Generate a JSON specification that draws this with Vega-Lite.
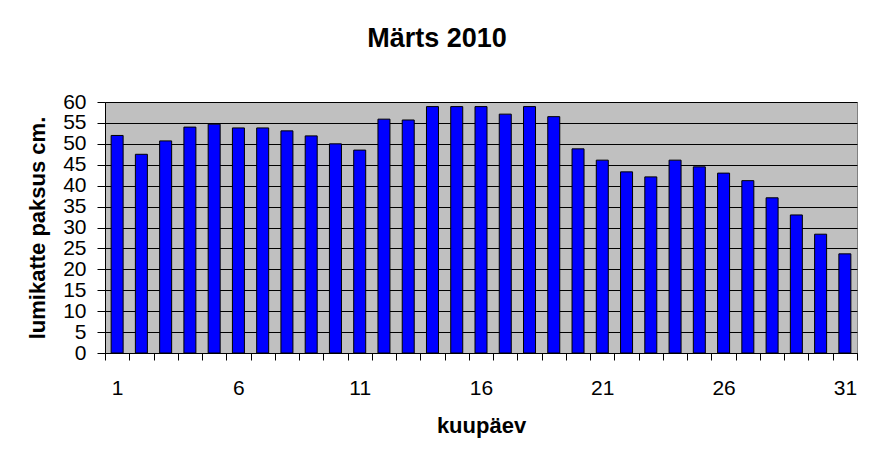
{
  "$schema": "https://vega.github.io/schema/vega-lite/v6.json",
  "autosize": "none",
  "width": 752,
  "height": 251,
  "padding": {"left": 105, "top": 102, "right": 16, "bottom": 112},
  "background": "white",
  "title": {
    "text": "Märts 2010",
    "font": "Liberation Sans",
    "fontSize": 27,
    "fontWeight": "bold",
    "color": "black",
    "anchor": "middle",
    "dx": -44,
    "offset": 38
  },
  "data": {
    "values": [
      {"day": 1, "snow": 52},
      {"day": 2, "snow": 47.5},
      {"day": 3, "snow": 50.7},
      {"day": 4, "snow": 54},
      {"day": 5, "snow": 54.7},
      {"day": 6, "snow": 53.8},
      {"day": 7, "snow": 53.8},
      {"day": 8, "snow": 53.1},
      {"day": 9, "snow": 51.9},
      {"day": 10, "snow": 50},
      {"day": 11, "snow": 48.5},
      {"day": 12, "snow": 55.9},
      {"day": 13, "snow": 55.7},
      {"day": 14, "snow": 58.9},
      {"day": 15, "snow": 58.9},
      {"day": 16, "snow": 58.9},
      {"day": 17, "snow": 57.1},
      {"day": 18, "snow": 58.9},
      {"day": 19, "snow": 56.5},
      {"day": 20, "snow": 48.8},
      {"day": 21, "snow": 46.1},
      {"day": 22, "snow": 43.3},
      {"day": 23, "snow": 42.1},
      {"day": 24, "snow": 46.1},
      {"day": 25, "snow": 44.5},
      {"day": 26, "snow": 43},
      {"day": 27, "snow": 41.2},
      {"day": 28, "snow": 37.1},
      {"day": 29, "snow": 33},
      {"day": 30, "snow": 28.4},
      {"day": 31, "snow": 23.7}
    ]
  },
  "mark": {"type": "bar", "fill": "#0000FF", "stroke": "black", "strokeWidth": 1, "width": 12},
  "encoding": {
    "x": {
      "field": "day",
      "type": "quantitative",
      "title": "kuupäev",
      "scale": {"domain": [0.5, 31.5], "nice": false, "zero": false, "padding": 0},
      "axis": {
        "values": [0.5, 1.5, 2.5, 3.5, 4.5, 5.5, 6.5, 7.5, 8.5, 9.5, 10.5, 11.5, 12.5, 13.5, 14.5, 15.5, 16.5, 17.5, 18.5, 19.5, 20.5, 21.5, 22.5, 23.5, 24.5, 25.5, 26.5, 27.5, 28.5, 29.5, 30.5, 31.5],
        "labelExpr": "(datum.value - 0.5) % 5 == 0 && datum.value < 31 ? format(datum.value + 0.5, 'd') : ''",
        "labelOffset": 12.13,
        "labelOverlap": false,
        "labelFlush": false,
        "labelBound": false,
        "tickSize": 7,
        "tickColor": "black",
        "domainColor": "black",
        "labelFont": "Liberation Sans",
        "labelFontSize": 21,
        "labelColor": "black",
        "labelPadding": 17,
        "titleFont": "Liberation Sans",
        "titleFontSize": 22,
        "titleFontWeight": "bold",
        "titleColor": "black",
        "titlePadding": 17,
        "grid": false
      }
    },
    "y": {
      "field": "snow",
      "type": "quantitative",
      "title": "lumikatte paksus cm.",
      "scale": {"domain": [0, 60], "nice": false},
      "axis": {
        "values": [0, 5, 10, 15, 20, 25, 30, 35, 40, 45, 50, 55, 60],
        "labelOverlap": false,
        "labelBound": false,
        "tickSize": 8,
        "tickColor": "black",
        "domainColor": "black",
        "gridColor": "black",
        "gridOpacity": 1,
        "labelFont": "Liberation Sans",
        "labelFontSize": 21,
        "labelColor": "black",
        "labelPadding": 11,
        "titleFont": "Liberation Sans",
        "titleFontSize": 22,
        "titleFontWeight": "bold",
        "titleColor": "black",
        "titlePadding": 13
      }
    }
  },
  "config": {
    "view": {"fill": "#C0C0C0", "stroke": "#808080", "strokeWidth": 1}
  }
}
